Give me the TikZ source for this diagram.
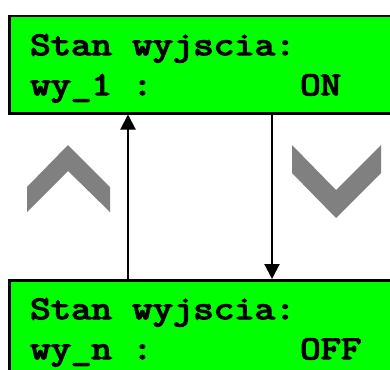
\documentclass[tikz,border=0pt]{standalone}
\usepackage{fontspec}
\newfontfamily\lcdfont[FakeBold=4]{Latin Modern Mono}
\usetikzlibrary{arrows.meta}
\definecolor{lcd}{HTML}{00FF00}
\definecolor{chev}{HTML}{808080}
\tikzset{
  lcdbox/.style={draw=black, line width=2.5pt, fill=lcd, rectangle, minimum width=400pt, minimum height=97pt, inner sep=0pt, anchor=north west},
  lcdtext/.style={anchor=base west, inner sep=0pt, xscale=1.2, font=\lcdfont\fontsize{33}{40}\selectfont},
  conn/.style={line width=2pt, -{Triangle[length=15pt,width=15pt]}},
  chevron/.style={fill=chev, draw=none}
}
\begin{document}
\begin{tikzpicture}[x=1pt,y=-1pt]
\clip (0,0) rectangle (390,369);
\fill[white] (0,0) rectangle (390,369);
\node[lcdbox] (top) at (8,15) {};
\node[lcdbox] (bot) at (8,279) {};
\node[lcdtext] (t1) at (30,55) {Stan wyjscia:};
\node[lcdtext] (t2) at (30,95) {wy\_1 :};
\node[lcdtext] (t3) at (300,95) {ON};
\node[lcdtext] (b1) at (30,319) {Stan wyjscia:};
\node[lcdtext] (b2) at (30,359) {wy\_n :};
\node[lcdtext] (b3) at (300,359) {OFF};
\coordinate (ux) at (128,0);
\coordinate (dx) at (272,0);
\draw[conn] (bot.north -| ux) -- (top.south -| ux);
\draw[conn] (top.south -| dx) -- (bot.north -| dx);
\fill[chevron] (27,187) -- (68,145) -- (110,187) -- (110,212) -- (68,171) -- (27,212) -- cycle;
\fill[chevron] (292,145) -- (336,190) -- (381,145) -- (381,173) -- (336,218) -- (292,173) -- cycle;
\end{tikzpicture}
\end{document}
